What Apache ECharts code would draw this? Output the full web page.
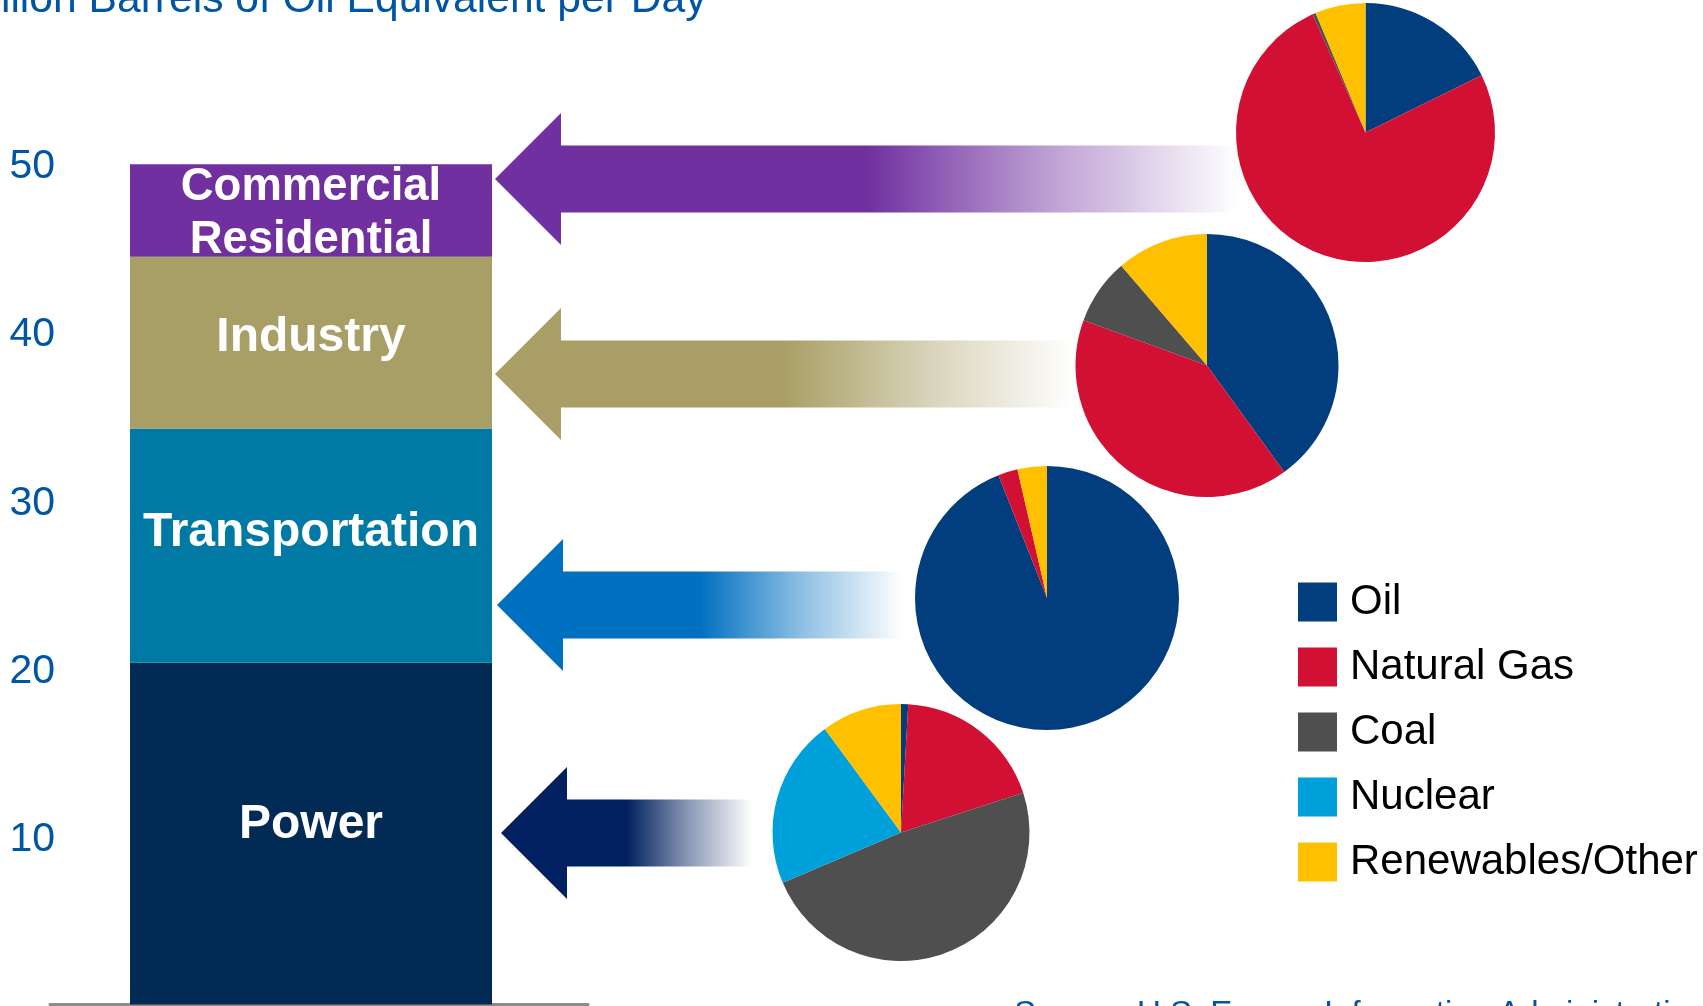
<!DOCTYPE html>
<html>
<head>
<meta charset="utf-8">
<script src="https://cdn.jsdelivr.net/npm/echarts@6/dist/echarts.min.js"></script>
<style>
html,body{margin:0;padding:0;background:#fff;}
#chart{width:1703px;height:1006px;}
</style>
</head>
<body>
<div id="chart"></div>
<script>
// ---- Data ----
const sectors = ['Power', 'Transportation', 'Industry', 'Commercial\nResidential'];
const sectorValues = [20.3, 13.9, 10.2, 5.5];
const yTicks = [10, 20, 30, 40, 50];
const fuels = ['Oil', 'Natural Gas', 'Coal', 'Nuclear', 'Renewables/Other'];
// shares in percent, order: Oil, Natural Gas, Coal, Nuclear, Renewables/Other
const commercialMix = [17.7, 75.6, 0.4, 0, 6.3];
const industryMix = [40.0, 40.6, 8.1, 0, 11.3];
const transportMix = [94.0, 2.4, 0, 0, 3.6];
const powerMix = [0.9, 19.1, 48.6, 21.3, 10.1];

// ---- Styles ----
const FONT = 'Liberation Sans, Arial, Helvetica, sans-serif';
const fuelColors = ['#023D7E', '#D21034', '#4F4F4F', '#00A0DA', '#FFC000'];
const sectorColors = ['#012A55', '#0079A5', '#A89F67', '#7030A0'];
const arrowColors = ['#002060', '#0070C0', '#A99F66', '#7030A0'];
const labelOffsets = [[0, -9], [0, -13], [0, -5], [0, 3]];
const labelSizes = [48, 48, 48, 45.5];

const pieLayout = [
  { mix: powerMix, center: [901, 832.5], r: 128.5 },
  { mix: transportMix, center: [1047, 598], r: 132 },
  { mix: industryMix, center: [1207, 365.5], r: 131.5 },
  { mix: commercialMix, center: [1365.5, 132.5], r: 129.5 }
];
// arrows: tip x, center y, end x
const arrowLayout = [
  { tip: 501, y: 833, end: 752 },
  { tip: 497, y: 605, end: 902 },
  { tip: 495, y: 374, end: 1075 },
  { tip: 495, y: 179, end: 1238 }
];

function hexA(hex, a) {
  const n = parseInt(hex.slice(1), 16);
  return 'rgba(' + ((n >> 16) & 255) + ',' + ((n >> 8) & 255) + ',' + (n & 255) + ',' + a + ')';
}

const chart = echarts.init(document.getElementById('chart'), null, { renderer: 'canvas' });

const barSeries = sectors.map((name, i) => ({
  type: 'bar',
  name: name,
  stack: 'total',
  xAxisIndex: 0,
  yAxisIndex: 0,
  data: [sectorValues[i]],
  barWidth: 362,
  itemStyle: { color: sectorColors[i] },
  silent: true,
  label: {
    show: true,
    position: 'inside',
    formatter: name,
    color: '#ffffff',
    fontFamily: FONT,
    fontWeight: 'bold',
    fontSize: labelSizes[i],
    lineHeight: 53,
    offset: labelOffsets[i]
  },
  z: 3
}));

const pieSeries = pieLayout.map((p) => ({
  type: 'pie',
  center: p.center,
  radius: p.r,
  startAngle: 90,
  clockwise: true,
  silent: true,
  label: { show: false },
  labelLine: { show: false },
  emphasis: { disabled: true },
  itemStyle: { borderWidth: 0 },
  data: fuels.map((f, j) => ({ name: f, value: p.mix[j], itemStyle: { color: fuelColors[j] } }))
            .filter(d => d.value > 0),
  z: 4
}));

const arrowGraphics = arrowLayout.map((a, i) => {
  const head = 66, hh = 66, sh = 33.5;
  return {
    type: 'polygon',
    z: 1,
    silent: true,
    shape: {
      points: [
        [a.tip, a.y],
        [a.tip + head, a.y - hh],
        [a.tip + head, a.y - sh],
        [a.end, a.y - sh],
        [a.end, a.y + sh],
        [a.tip + head, a.y + sh],
        [a.tip + head, a.y + hh]
      ]
    },
    style: {
      fill: new echarts.graphic.LinearGradient(0, 0, 1, 0, [
        { offset: 0, color: arrowColors[i] },
        { offset: 0.5, color: arrowColors[i] },
        { offset: 0.75, color: hexA(arrowColors[i], 0.45) },
        { offset: 1, color: hexA(arrowColors[i], 0) }
      ])
    }
  };
});

const option = {
  animation: false,
  backgroundColor: '#ffffff',
  title: [
    {
      text: 'Million Barrels of Oil Equivalent per Day',
      left: -44,
      top: -21,
      padding: 0,
      textStyle: { fontFamily: FONT, fontSize: 42.6, fontWeight: 'normal', color: '#0055A5', lineHeight: 42 }
    },
    {
      text: 'Source: U.S. Energy Information Administration',
      left: 1014,
      top: 998,
      padding: 0,
      textStyle: { fontFamily: FONT, fontSize: 33, fontWeight: 'normal', color: '#0055A5', lineHeight: 33 }
    }
  ],
  grid: [
    { left: 42, width: 538, top: 162.5, bottom: 1.5, containLabel: false },
    { left: 50, width: 538, top: 162.5, bottom: 1.5, containLabel: false }
  ],
  xAxis: [
    {
      type: 'category',
      gridIndex: 0,
      data: ['Sectors'],
      axisLine: { show: false },
      axisTick: { show: false },
      axisLabel: { show: false },
      splitLine: { show: false }
    },
    {
      type: 'category',
      gridIndex: 1,
      data: ['Sectors'],
      axisLine: { show: true, onZero: false, lineStyle: { color: '#8C8C8C', width: 3 } },
      axisTick: { show: false },
      axisLabel: { show: false },
      splitLine: { show: false }
    }
  ],
  yAxis: [
    {
      type: 'value',
      gridIndex: 0,
      min: 0,
      max: 50,
      interval: 10,
      axisLine: { show: false },
      axisTick: { show: false },
      splitLine: { show: false },
      axisLabel: {
        margin: -13,
        fontFamily: FONT,
        fontSize: 41,
        color: '#0055A5',
        showMinLabel: false,
        verticalAlign: 'top',
        lineHeight: 8,
        formatter: v => (yTicks.indexOf(v) >= 0 ? String(v) : '')
      }
    },
    {
      type: 'value',
      gridIndex: 1,
      min: 0,
      max: 50,
      show: false
    }
  ],
  legend: {
    data: fuels,
    orient: 'vertical',
    left: 1298,
    top: 581,
    itemWidth: 39,
    itemHeight: 39,
    itemGap: 23,
    icon: 'rect',
    selectedMode: false,
    padding: 0,
    textStyle: { fontFamily: FONT, fontSize: 42, color: '#000000', lineHeight: 40, padding: [0, 0, 0, 8] }
  },
  graphic: arrowGraphics,
  series: barSeries.concat(pieSeries)
};

chart.setOption(option);
</script>
</body>
</html>
